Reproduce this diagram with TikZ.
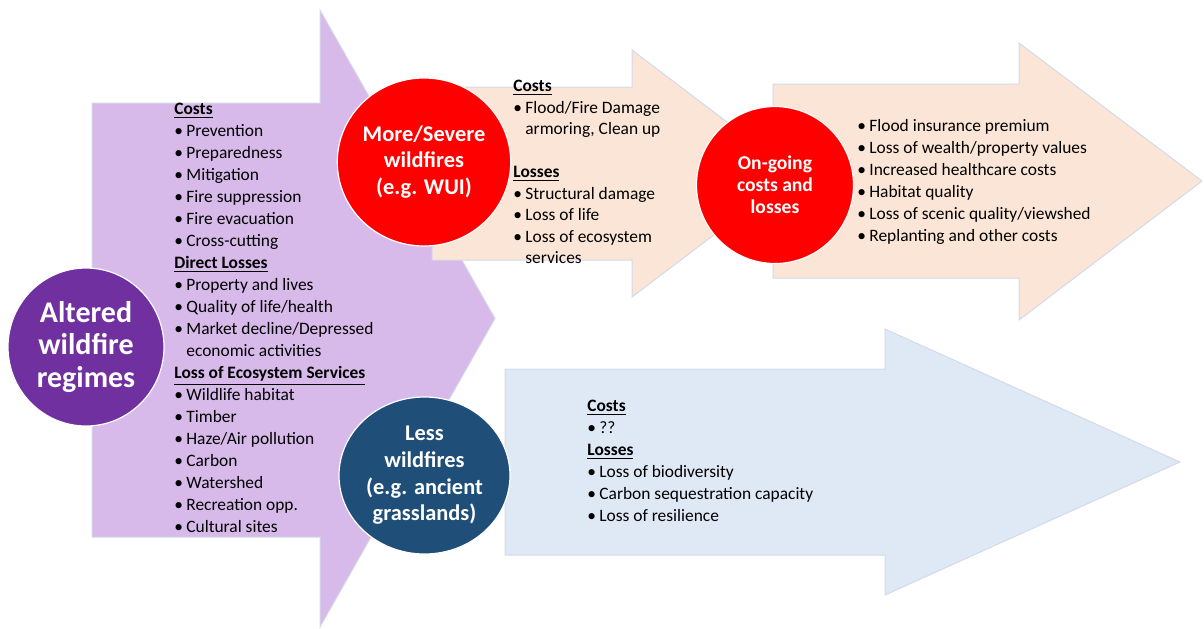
\documentclass[tikz,border=0pt]{standalone}
\usepackage{fontspec}
\setmainfont{Carlito}
\usepackage{xcolor}
\usepackage{graphicx}
\definecolor{lavender}{HTML}{D7B9EA}
\definecolor{regimepurple}{HTML}{7030A0}
\definecolor{firered}{HTML}{FF0000}
\definecolor{peach}{HTML}{FBE5D6}
\definecolor{paleblue}{HTML}{DFE8F5}
\definecolor{lessnavy}{HTML}{1F4E79}
\definecolor{edgegray}{HTML}{D3DAEA}
\usepackage{tikz}
\usetikzlibrary{shapes.geometric}
\tikzset{
  bigarrow/.style={draw=edgegray, line width=0.5pt, line join=miter},
  hub/.style     ={ellipse, draw=white, line width=0.6pt, text=white, align=center, inner sep=0pt},
  listtxt/.style ={align=left, inner sep=0pt, text=black, font=\fontsize{8.7}{11}\selectfont},
}
\newcommand{\itm}[1]{\makebox[6pt][l]{\textbullet}#1}
\newcommand{\hd}[1]{\underline{\textbf{#1}}}

\begin{document}
\begin{tikzpicture}[x=0.5pt, y=-0.5pt]
  \useasboundingbox (0,0) rectangle (1204,628);
  % big arrows
  \draw[bigarrow, fill=lavender]  (92,103) -- (320,103) -- (320,10) -- (495,318.5) -- (320,627) -- (320,537) -- (92,537) -- cycle;
  \draw[bigarrow, fill=peach]     (432,87) -- (632,87) -- (632,50) -- (795,173.5) -- (632,297) -- (632,260) -- (432,260) -- cycle;
  \draw[bigarrow, fill=peach]     (773,84) -- (1019,84) -- (1019,43) -- (1202,181) -- (1019,320) -- (1019,278) -- (773,278) -- cycle;
  \draw[bigarrow, fill=paleblue]  (505,369) -- (885,369) -- (885,329) -- (1180,462) -- (885,595) -- (885,555) -- (505,555) -- cycle;
  % lists (anchored on their last line)
  \node[listtxt, anchor=base west] (regimelist) at (174,532.5)
    {\hd{Costs}\\ \itm{Prevention}\\ \itm{Preparedness}\\ \itm{Mitigation}\\ \itm{Fire suppression}\\
     \itm{Fire evacuation}\\ \itm{Cross-cutting}\\ \hd{Direct Losses}\\ \itm{Property and lives}\\
     \itm{Quality of life/health}\\ \itm{Market decline/Depressed}\\ \hspace*{6pt}economic activities\\
     \hd{Loss of Ecosystem Services}\\ \itm{Wildlife habitat}\\ \itm{Timber}\\ \itm{Haze/Air pollution}\\
     \itm{Carbon}\\ \itm{Watershed}\\ \itm{Recreation opp.}\\ \itm{Cultural sites}};
  \node[listtxt, anchor=base west, font=\fontsize{8.7}{10.75}\selectfont] (severelist) at (513,263.5)
    {\hd{Costs}\\ \itm{Flood/Fire Damage}\\ \hspace*{6pt}armoring, Clean up\\[10.75pt]
     \hd{Losses}\\ \itm{Structural damage}\\ \itm{Loss of life}\\ \itm{Loss of ecosystem}\\ \hspace*{6pt}services};
  \node[listtxt, anchor=base west] (ongoinglist) at (857,241.5)
    {\itm{Flood insurance premium}\\ \itm{Loss of wealth/property values}\\ \itm{Increased healthcare costs}\\
     \itm{Habitat quality}\\ \itm{Loss of scenic quality/viewshed}\\ \itm{Replanting and other costs}};
  \node[listtxt, anchor=base west] (lesslist) at (587,521.5)
    {\hd{Costs}\\ \itm{??}\\ \hd{Losses}\\ \itm{Loss of biodiversity}\\ \itm{Carbon sequestration capacity}\\
     \itm{Loss of resilience}};
  % circles
  \node[hub, fill=regimepurple, minimum width=78pt, minimum height=79pt,
        font=\bfseries\fontsize{15}{16.25}\selectfont] (altered) at (86,347) {Altered\\wildfire\\regimes};
  \node[hub, fill=firered, minimum width=86pt, minimum height=84pt,
        font=\bfseries\fontsize{11.2}{13.3}\selectfont] (severe) at (424,162) {More/Severe\\wildfires\\(e.g. WUI)};
  \node[hub, fill=firered, minimum width=78.5pt, minimum height=78.5pt,
        font=\bfseries\fontsize{9.8}{11}\selectfont] (ongoing) at (775,185) {On-going\\costs and\\losses};
  \node[hub, fill=lessnavy, minimum width=85.5pt, minimum height=78.5pt,
        font=\bfseries\fontsize{11.2}{13.3}\selectfont] (less) at (424.5,475.5) {Less\\wildfires\\(e.g. ancient\\grasslands)};
\end{tikzpicture}
\end{document}
